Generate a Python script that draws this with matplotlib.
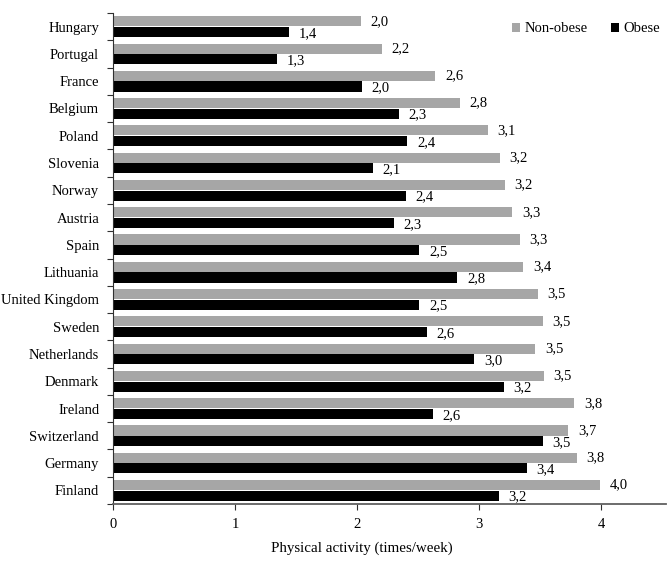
import numpy as np
import matplotlib.pyplot as plt

plt.rcParams['font.family'] = ['Liberation Serif', 'DejaVu Serif']

# ── Data ──────────────────────────────────────────────────────────────────────
countries = ['Hungary', 'Portugal', 'France', 'Belgium', 'Poland', 'Slovenia',
             'Norway', 'Austria', 'Spain', 'Lithuania', 'United Kingdom',
             'Sweden', 'Netherlands', 'Denmark', 'Ireland', 'Switzerland',
             'Germany', 'Finland']
non_obese = [2.03, 2.20, 2.64, 2.84, 3.07, 3.17, 3.21, 3.27, 3.33, 3.36,
             3.48, 3.52, 3.46, 3.53, 3.78, 3.73, 3.80, 3.99]
obese     = [1.44, 1.34, 2.04, 2.34, 2.41, 2.13, 2.40, 2.30, 2.51, 2.82,
             2.51, 2.57, 2.96, 3.20, 2.62, 3.52, 3.39, 3.16]
xticks = [0, 1, 2, 3, 4]

GRAY = '#a6a6a6'
FS = 10.5

def fmt(v):
    return f'{v:.1f}'.replace('.', ',')

# ── Plot ──────────────────────────────────────────────────────────────────────
fig = plt.figure(figsize=(6.68, 5.62), dpi=100)
ax = fig.add_axes([113 / 668, 1 - 504 / 562, 553 / 668, 491 / 562])

y = np.arange(len(countries))
h = 0.37
off = 0.195

ax.barh(y - off, non_obese, height=h, color=GRAY, label='Non-obese')
ax.barh(y + off, obese, height=h, color='black', label='Obese')

for yi, v in zip(y, non_obese):
    ax.annotate(fmt(v), (v, yi - off), xytext=(7, 0), textcoords='offset points',
                ha='left', va='center', fontsize=FS)
for yi, v in zip(y, obese):
    ax.annotate(fmt(v), (v, yi + off), xytext=(7, -1), textcoords='offset points',
                ha='left', va='center', fontsize=FS)

ax.set_ylim(len(countries) - 0.5, -0.5)
ax.set_xlim(0, 4.53)
ax.set_yticks(y)
ax.set_yticklabels(countries, fontsize=FS)
ax.set_yticks(np.arange(len(countries) + 1) - 0.5, minor=True)
ax.tick_params(axis='y', which='major', length=0, pad=10)
ax.tick_params(axis='y', which='minor', length=4, width=0.8, color='#303030')

ax.set_xticks(xticks)
ax.set_xticklabels([str(t) for t in xticks], fontsize=FS)
ax.tick_params(axis='x', length=4, width=0.8, color='#303030', pad=6)
ax.set_xlabel('Physical activity (times/week)', fontsize=10.8, labelpad=8)
ax.xaxis.label.set_x((362 - 113) / 553)

for s in ['top', 'right']:
    ax.spines[s].set_visible(False)
ax.spines['left'].set_color('#303030')
ax.spines['left'].set_linewidth(0.8)
ax.spines['bottom'].set_color('#606060')
ax.spines['bottom'].set_linewidth(1.3)

ax.legend(loc='center right', bbox_to_anchor=(1.0, 1 - 16 / 491), ncol=2,
          frameon=False, fontsize=FS, handlelength=0.55, handleheight=0.55,
          handletextpad=0.3, columnspacing=1.6, borderaxespad=0)

plt.savefig('out.png', dpi=100)
